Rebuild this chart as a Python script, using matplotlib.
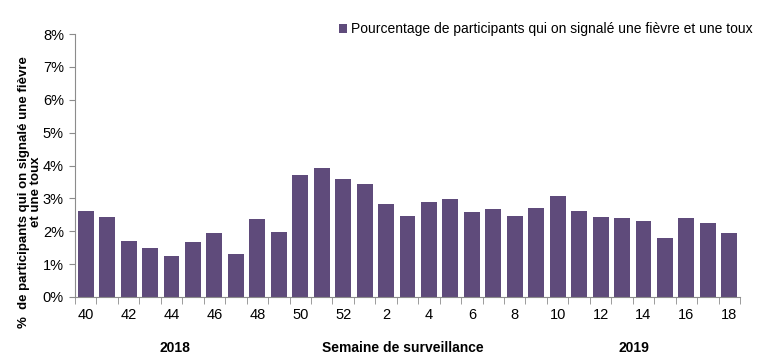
import numpy as np
import matplotlib.pyplot as plt
from matplotlib.ticker import PercentFormatter

plt.rcParams['font.family'] = ['Liberation Sans', 'DejaVu Sans']

# Data
weeks = [40, 41, 42, 43, 44, 45, 46, 47, 48, 49, 50, 51, 52,
         1, 2, 3, 4, 5, 6, 7, 8, 9, 10, 11, 12, 13, 14, 15, 16, 17, 18]
pct = [2.61, 2.43, 1.70, 1.49, 1.25, 1.67, 1.95, 1.31, 2.37, 1.98, 3.71, 3.92, 3.59,
       3.43, 2.83, 2.46, 2.89, 2.98, 2.58, 2.67, 2.46, 2.71, 3.07, 2.61, 2.43,
       2.40, 2.31, 1.79, 2.40, 2.25, 1.95]
series_name = 'Pourcentage de participants qui on signalé une fièvre et une toux'
bar_color = '#5f4b7b'
axis_color = '#8c8c8c'

fig = plt.figure(figsize=(7.65, 3.61), dpi=100)
ax = fig.add_axes([75 / 765, 1 - 297 / 361, 665 / 765, 263 / 361])

x = np.arange(len(weeks))
ax.bar(x, pct, width=0.74, color=bar_color, label=series_name)

ax.set_xlim(-0.5, len(weeks) - 0.5)
ax.set_ylim(0, 8)
ax.yaxis.set_major_formatter(PercentFormatter(decimals=0))
ax.set_yticks(range(0, 9))

# x labels every other week, tick marks at category boundaries
ax.set_xticks(x[::2])
ax.set_xticklabels([str(w) for w in weeks[::2]])
ax.set_xticks(np.arange(-0.5, len(weeks), 1), minor=True)
ax.tick_params(axis='x', which='major', length=0, pad=8, labelsize=10.5)
ax.tick_params(axis='x', which='minor', length=5, color=axis_color, direction='out')
ax.tick_params(axis='y', length=4, color=axis_color, labelsize=10.5, pad=4)

for s in ['top', 'right']:
    ax.spines[s].set_visible(False)
for s in ['left', 'bottom']:
    ax.spines[s].set_color(axis_color)

ax.set_ylabel('%  de participants qui on signalé une fièvre\net une toux',
              fontsize=9.5, fontweight='bold', linespacing=1.0)
ax.yaxis.set_label_coords(-0.05, 0.40)

fig.text(175 / 765, 1 - 348 / 361, '2018', ha='center', va='center',
         fontsize=10, fontweight='bold')
fig.text(403 / 765, 1 - 348 / 361, 'Semaine de surveillance', ha='center',
         va='center', fontsize=10, fontweight='bold')
fig.text(634 / 765, 1 - 348 / 361, '2019', ha='center', va='center',
         fontsize=10, fontweight='bold')

leg = ax.legend(loc='upper right', bbox_to_anchor=(1.028, 1.065), frameon=False,
                fontsize=10, handlelength=0.6, handleheight=0.6,
                handletextpad=0.3, borderaxespad=0)

fig.savefig('out.png', dpi=100)
